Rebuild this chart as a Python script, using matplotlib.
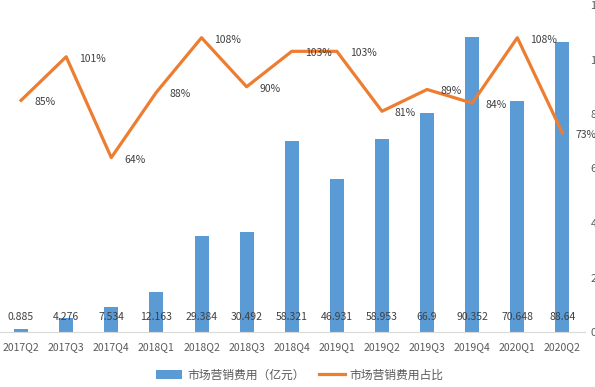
import matplotlib
matplotlib.use("Agg")
import matplotlib.pyplot as plt
from matplotlib.ticker import FuncFormatter

plt.rcParams['font.family'] = ['Noto Sans CJK SC', 'DejaVu Sans']

categories = ['2017Q2', '2017Q3', '2017Q4', '2018Q1', '2018Q2', '2018Q3', '2018Q4',
              '2019Q1', '2019Q2', '2019Q3', '2019Q4', '2020Q1', '2020Q2']
expense = [0.885, 4.276, 7.534, 12.163, 29.384, 30.492, 58.321,
           46.931, 58.953, 66.9, 90.352, 70.648, 88.64]
expense_labels = ['0.885', '4.276', '7.534', '12.163', '29.384', '30.492', '58.321',
                  '46.931', '58.953', '66.9', '90.352', '70.648', '88.64']
ratio = [85, 101, 64, 88, 108, 90, 103, 103, 81, 89, 84, 108, 73]

blue = '#5B9BD5'
orange = '#ED7D31'
txt = '#595959'

W, H = 595, 387
fig = plt.figure(figsize=(W / 100, H / 100), dpi=100)
left_px, right_px, top_px, base_px = -1.5, 585, 5, 332
ax = fig.add_axes([left_px / W, (H - base_px) / H, (right_px - left_px) / W, (base_px - top_px) / H])
ax2 = ax.twinx()

x = list(range(len(categories)))
bars = ax.bar(x, expense, width=0.31, color=blue, label='市场营销费用（亿元）', zorder=2)
ax.set_ylim(0, 100)
ax.set_xlim(-0.5, len(categories) - 0.5)
ax.set_xticks(x)
ax.set_xticklabels(categories, fontsize=7.5, color=txt)
ax.tick_params(axis='x', length=0, pad=7)
ax.set_yticks([])
for s in ['top', 'left', 'right']:
    ax.spines[s].set_visible(False)
ax.spines['bottom'].set_color('#D9D9D9')

for xi, lab in zip(x, expense_labels):
    ax.annotate(lab, (xi, 0), xytext=(0, 15), textcoords='offset pixels',
                ha='center', va='center', fontsize=7.5, color='#404040', zorder=3)

line, = ax2.plot(x, ratio, color=orange, lw=2.3, label='市场营销费用占比', zorder=4)
ax2.set_ylim(0, 120)
ax2.set_yticks([0, 20, 40, 60, 80, 100, 120])
ax2.yaxis.set_major_formatter(FuncFormatter(lambda v, p: f'{int(v)}%'))
ax2.tick_params(axis='y', length=0, pad=4, labelsize=8, labelcolor=txt)
for s in ['top', 'left', 'right', 'bottom']:
    ax2.spines[s].set_visible(False)

for xi, r in zip(x, ratio):
    ax2.annotate(f'{r}%', (xi, r), xytext=(13, -2), textcoords='offset pixels',
                 ha='left', va='center', fontsize=7.5, color='#404040', zorder=5)

fig.legend(handles=[bars, line], labels=['市场营销费用（亿元）', '市场营销费用占比'],
           loc='center', bbox_to_anchor=(300 / W, 1 - 375 / H), ncol=2, frameon=False,
           fontsize=8.5, labelcolor=txt, handlelength=2.2, handletextpad=0.4, columnspacing=1.2)

fig.savefig('out.png', dpi=100)
